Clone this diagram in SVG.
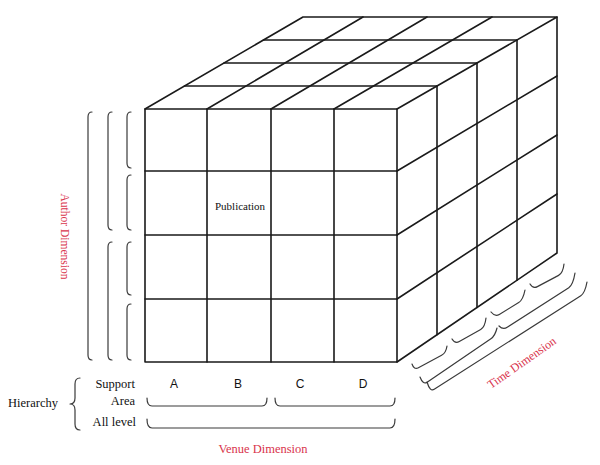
<svg xmlns="http://www.w3.org/2000/svg" width="600" height="465" viewBox="0 0 600 465">
<style>
.g{fill:none;stroke:#1a1a1a;stroke-width:1.6;stroke-linecap:round;stroke-linejoin:round}
.b{fill:none;stroke:#3a3a3a;stroke-width:1.2;stroke-linecap:round;stroke-linejoin:round}
.s{font-family:"Liberation Serif","Times New Roman",serif;fill:#111}
.a{font-family:"Liberation Sans",Arial,sans-serif;font-size:12px;fill:#111;text-anchor:middle}
.r{font-family:"Liberation Serif","Times New Roman",serif;fill:#d9344c}
</style>
<rect width="600" height="465" fill="#fff"/>
<g id="cube">
  <g id="front-face" class="g">
    <rect x="145" y="109" width="252" height="253"/>
    <path d="M207,109V362M271,109V362M334,109V362M145,171H397M145,235H397M145,299H397"/>
  </g>
  <g id="top-face" class="g">
    <path d="M145,109L303,17H557L397,109"/>
    <path d="M184.5,86H437M224,63H477M263.5,40H517"/>
    <path d="M207,109L363,17M271,109L427,17M334,109L492,17"/>
  </g>
  <g id="right-face" class="g">
    <path d="M557,17V253L397,362"/>
    <path d="M437,86V334.75M477,63V307.5M517,40V280.25"/>
    <path d="M397,171L557,76M397,235L557,135M397,299L557,194"/>
  </g>
  <g id="publication">
    <text class="s" x="215" y="210" font-size="11">Publication</text>
  </g>
</g>
<g id="author-dimension">
  <g class="b">
    <path d="M92,112Q88,112 88,117V355Q88,360 92,360"/>
    <path d="M112,112Q108,112 108,117V225Q108,230 112,230"/>
    <path d="M112,242Q108,242 108,247V355Q108,360 112,360"/>
    <path d="M131,112Q127,112 127,117V163Q127,168 131,168"/>
    <path d="M131,175Q127,175 127,180V225Q127,230 131,230"/>
    <path d="M131,242Q127,242 127,247V290Q127,295 131,295"/>
    <path d="M131,304Q127,304 127,309V355Q127,360 131,360"/>
  </g>
  <text class="r" font-size="11.5" text-anchor="middle" transform="translate(61,236.5) rotate(90)">Author Dimension</text>
</g>
<g id="venue-dimension">
  <text class="s" x="8" y="407" font-size="12.5">Hierarchy</text>
  <path class="b" d="M80,378Q75,378 75,384V398Q75,404 70,404Q75,404 75,410V424Q75,430 80,430"/>
  <text class="s" x="135" y="388" font-size="12.5" text-anchor="end">Support</text>
  <text class="s" x="135" y="405" font-size="12.5" text-anchor="end">Area</text>
  <text class="s" x="136" y="426" font-size="12.5" text-anchor="end">All level</text>
  <text class="a" x="174" y="388">A</text>
  <text class="a" x="238" y="388">B</text>
  <text class="a" x="300" y="388">C</text>
  <text class="a" x="363" y="388">D</text>
  <g class="b">
    <path d="M147,398Q147,406 152,406H262Q267,406 267,398"/>
    <path d="M275,398Q275,406 280,406H390Q395,406 395,398"/>
    <path d="M147,419Q147,428 152,428H390Q395,428 395,419"/>
  </g>
  <text class="r" x="263" y="453" font-size="12.5" text-anchor="middle">Venue Dimension</text>
</g>
<g id="time-dimension">
  <g class="b">
    <path d="M412,364Q414,370 418.4,367.7L441.6,355.3Q446,353 447,346"/>
    <path d="M452,339Q455,344 459.3,341.5L480.7,329.5Q485,327 486,318"/>
    <path d="M491,312Q495,317 499.3,314.4L518.7,302.6Q523,300 525,290"/>
    <path d="M530,284Q533,289 537.4,286.6L558.6,275.4Q563,273 564,264"/>
    <path d="M420,377Q423,385 427.1,382.2L490.9,338.8Q495,336 497,328"/>
    <path d="M499,326Q503,330 507.2,327.3L568.8,287.7Q573,285 575,273"/>
    <path d="M427,382Q430,392 434.2,389.3L580.8,295.7Q585,293 587,282"/>
  </g>
  <text class="r" font-size="12" text-anchor="middle" transform="translate(524,366) rotate(-35)">Time Dimension</text>
</g>
</svg>
